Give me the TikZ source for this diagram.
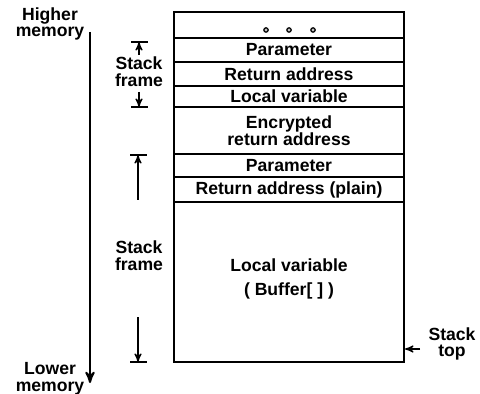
\documentclass[tikz,border=0pt]{standalone}
\usepackage{fontspec}
\setmainfont{Liberation Sans}
\usepackage{tikz}
\usetikzlibrary{arrows}

\begin{document}
\begin{tikzpicture}[x=0.5pt, y=-0.5pt, >=stealth',
	font=\bfseries\fontsize{8.8}{8.4}\selectfont,
	slot/.style={rectangle,draw,line width=1pt,minimum width=115pt,inner sep=0pt,align=center},
	tag/.style={align=center,inner sep=0pt},
	dim/.style={->,line width=0.6pt},
	bar/.style={line width=0.8pt}]

\useasboundingbox (0,0) rectangle (480,394);

% the stack, from the top down
\node (more)  at (289,25)    [slot,minimum height=13pt] {};
\node (par1)  at (289,50)    [slot,minimum height=12pt] {Parameter};
\node (ret1)  at (289,74)    [slot,minimum height=12pt] {Return address};
\node (loc1)  at (289,96.5)  [slot,minimum height=10.5pt] {Local variable};
\node (enc)   at (289,130.5) [slot,minimum height=23.5pt] {Encrypted\\return address};
\node (par2)  at (289,165.5) [slot,minimum height=11.5pt] {Parameter};
\node (ret2)  at (289,189.5) [slot,minimum height=12.5pt] {Return address (plain)};
\node (loc2)  at (289,282)   [slot,minimum height=80pt] {};
\node (buf)   at (289,279)   [tag] {Local variable\\[3.6pt]( Buffer[ ] )};

\foreach \x in {266,289,313}
{
	\draw[line width=0.6pt,fill=gray!50] (\x,30) circle (1.1pt);
}

% memory direction
\node (high) at (50,24)  [tag] {Higher\\memory};
\node (low)  at (50,379) [tag] {Lower\\memory};
\coordinate (hi) at (90,32);
\coordinate (lo) at (90,383);
\draw[->,line width=1pt] (hi) -- (lo);

% first stack frame
\node (frame1) at (139,72) [tag] {Stack\\frame};
\coordinate (f1top) at (139,42);
\coordinate (f1a)   at (139,55);
\coordinate (f1b)   at (139,92);
\coordinate (f1bot) at (139,107);
\draw[dim] (f1a) -- (f1top);
\draw[dim] (f1b) -- (f1bot);
\draw[bar] (131,42) -- (148,42);
\draw[bar] (131,107) -- (148,107);

% second stack frame
\node (frame2) at (139,256) [tag] {Stack\\frame};
\coordinate (f2top) at (138,155);
\coordinate (f2a)   at (138,200);
\coordinate (f2b)   at (138,317);
\coordinate (f2bot) at (138,362);
\draw[dim] (f2a) -- (f2top);
\draw[dim] (f2b) -- (f2bot);
\draw[bar] (130,155) -- (147,155);
\draw[bar] (130,362) -- (147,362);

% stack pointer
\node (top) at (452,344) [tag] {Stack\\top};
\coordinate (sp) at (420,349);
\draw[dim] (sp) -- (sp -| loc2.east);

\end{tikzpicture}
\end{document}
